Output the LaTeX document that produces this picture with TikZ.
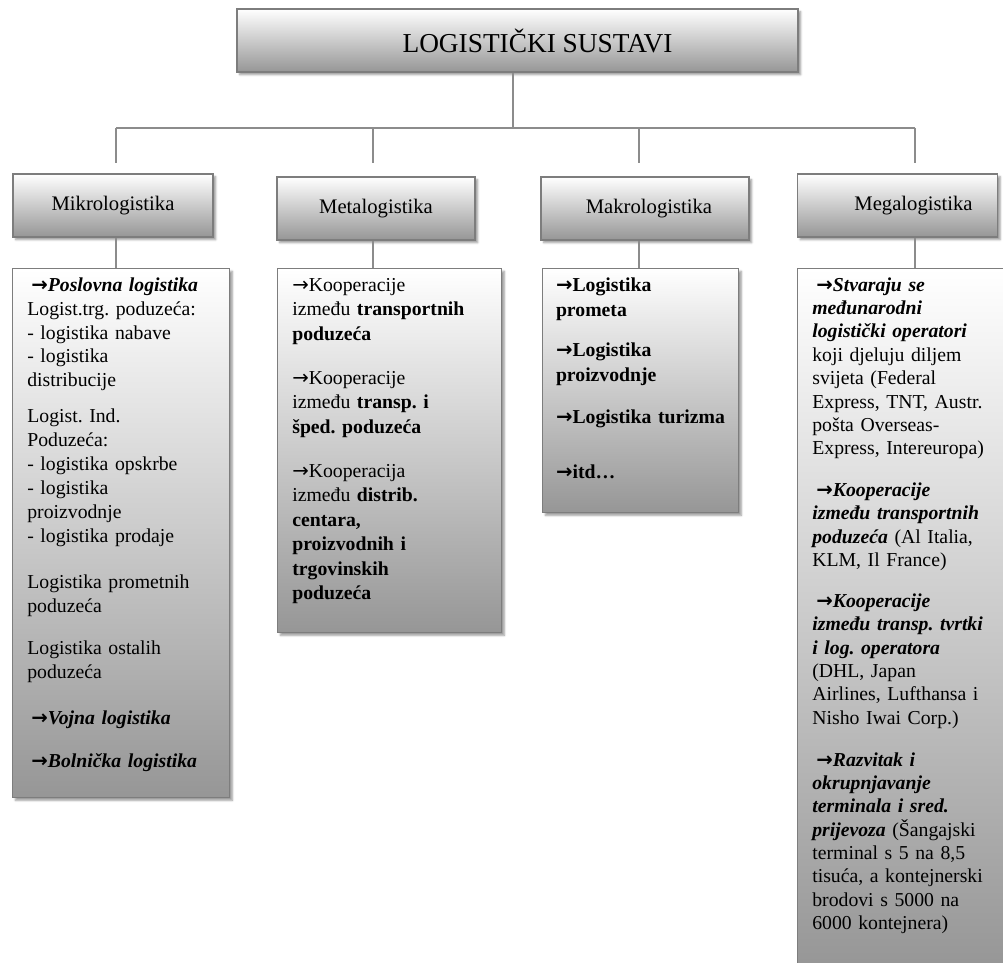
\documentclass[tikz,border=0pt]{standalone}
\usepackage{fontspec}
\setmainfont{Liberation Serif}
\newfontfamily\arrowfont{DejaVu Sans}
\usepackage{tikz}
\usetikzlibrary{
    positioning,
    shadows,
    shadows.blur
}
\frenchspacing
\hyphenpenalty=10000
\exhyphenpenalty=10000
\definecolor{boxLine}{RGB}{125, 125, 125}
\definecolor{boxBottom}{RGB}{150, 150, 150}
\definecolor{linkGray}{RGB}{140, 140, 140}
\tikzset{
    % 共通のボックススタイル
    block/.style={
        rectangle,
        draw=boxLine,            % 枠線の色
        line width=1pt,
        top color=white,         % 上は白
        bottom color=boxBottom,  % 下は灰色
        % 影の設定
        blur shadow={shadow xshift=2pt, shadow yshift=-2pt, shadow blur radius=1.5pt}
    },
    % 最上段
    topbox/.style={
        block,
        minimum width=420.75pt,
        minimum height=47.25pt,
        inner sep=0pt,
        font=\fontsize{20.5pt}{24pt}\selectfont
    },
    % 第2段
    headbox/.style={
        block,
        minimum width=150pt,
        minimum height=47.25pt,
        inner sep=0pt,
        font=\fontsize{15.5pt}{18pt}\selectfont
    },
    % 内容のボックス(上揃え)
    detailbox/.style={
        block,
        anchor=north west,
        align=left,
        inner xsep=11pt,
        inner ysep=5pt,
        text height=12pt
    },
    % 線のスタイル
    link/.style={
        draw=linkGray,
        line width=1.1pt
    }
}

\begin{document}
\begin{tikzpicture}[x=0.75pt, y=-0.75pt]

    \useasboundingbox (0,0) rectangle (1003,963);

    % [0] 見出し
    \node[topbox] (sustavi) at (517.5,40.5) {\hspace*{30pt}LOGISTIČKI SUSTAVI};

    % [1]-[4] 第2段
    \node[headbox] (mikro) at (113,205.5) {Mikrologistika};
    \node[headbox, minimum width=148.5pt] (meta) at (376,208.5) {Metalogistika};
    \node[headbox, minimum width=156pt] (makro) at (645,208.5) {\hspace*{6pt}Makrologistika};
    \node[headbox] (mega) at (897.5,205.5) {\hspace*{24pt}Megalogistika};

    % 分岐の座標
    \coordinate (c_bar) at (513,128);
    \coordinate (c_mikro) at (116,163);
    \coordinate (c_meta) at (373,163);
    \coordinate (c_makro) at (639,163);
    \coordinate (c_mega) at (915,163);

    % [1] Mikrologistika の内容
    \node[detailbox, text width=140.75pt, text depth=374.75pt,
          font=\fontsize{14.8pt}{17.9pt}\selectfont] (dMikro) at (12,268) {
        \hspace*{3pt}\textbf{\textit{{\arrowfont →}Poslovna logistika}}\\
        Logist.trg. poduzeća:\\
        - logistika nabave\\
        - logistika\\
        distribucije\\[9pt]
        Logist. Ind.\\
        Poduzeća:\\
        - logistika opskrbe\\
        - logistika\\
        proizvodnje\\
        - logistika prodaje\\[17pt]
        Logistika prometnih\\
        poduzeća\\[14pt]
        Logistika ostalih\\
        poduzeća\\[16pt]
        \hspace*{3pt}\textbf{\textit{{\arrowfont →}Vojna logistika}}\\[15pt]
        \hspace*{3pt}\textbf{\textit{{\arrowfont →}Bolnička logistika}}
    };

    % [2] Metalogistika の内容
    \node[detailbox, text width=146pt, text depth=251pt,
          font=\fontsize{14.8pt}{18.4pt}\selectfont] (dMeta) at (277,268) {
        {\arrowfont →}Kooperacije\\
        između \textbf{transportnih}\\
        \textbf{poduzeća}\\[14.5pt]
        {\arrowfont →}Kooperacije\\
        između \textbf{transp. i}\\
        \textbf{šped. poduzeća}\\[14.5pt]
        {\arrowfont →}Kooperacija\\
        između \textbf{distrib.}\\
        \textbf{centara,}\\
        \textbf{proizvodnih i}\\
        \textbf{trgovinskih}\\
        \textbf{poduzeća}
    };

    % [3] Makrologistika の内容
    \node[detailbox, inner xsep=10pt, text width=127pt, text depth=161pt,
          font=\fontsize{14.8pt}{18.75pt}\selectfont\bfseries] (dMakro) at (542,268) {
        {\arrowfont →}Logistika\\
        prometa\\[11pt]
        {\arrowfont →}Logistika\\
        proizvodnje\\[13pt]
        \mbox{{\arrowfont →}Logistika turizma}\\[22.5pt]
        {\arrowfont →}itd…
    };

    % [4] Megalogistika の内容(右端・下端で切れる)
    \node[detailbox, text width=139pt, text depth=503pt,
          font=\fontsize{14.8pt}{17.5pt}\selectfont] (dMega) at (797,268) {
        \hspace*{3pt}\textbf{\textit{{\arrowfont →}Stvaraju se}}\\
        \textbf{\textit{međunarodni}}\\
        \textbf{\textit{logistički operatori}}\\
        koji djeluju diljem\\
        svijeta (Federal\\
        Express, TNT, Austr.\\
        pošta Overseas-\\
        Express, Intereuropa)\\[14pt]
        \hspace*{3pt}\textbf{\textit{{\arrowfont →}Kooperacije}}\\
        \textbf{\textit{između transportnih}}\\
        \textbf{\textit{poduzeća}} (Al Italia,\\
        KLM, Il France)\\[13pt]
        \hspace*{3pt}\textbf{\textit{{\arrowfont →}Kooperacije}}\\
        \textbf{\textit{između transp. tvrtki}}\\
        \textbf{\textit{i log. operatora}}\\
        (DHL, Japan\\
        Airlines, Lufthansa i\\
        Nisho Iwai Corp.)\\[14pt]
        \hspace*{3pt}\textbf{\textit{{\arrowfont →}Razvitak i}}\\
        \textbf{\textit{okrupnjavanje}}\\
        \textbf{\textit{terminala i sred.}}\\
        \textbf{\textit{prijevoza}} (Šangajski\\
        terminal s 5 na 8,5\\
        tisuća, a kontejnerski\\
        brodovi s 5000 na\\
        6000 kontejnera)
    };

    % 線の描画
    \draw[link] (sustavi.south -| c_bar) -- (c_bar);
    \draw[link] (c_mikro |- c_bar) -- (c_mega |- c_bar);
    \foreach \c in {c_mikro, c_meta, c_makro, c_mega}
        \draw[link] (\c |- c_bar) -- (\c);

    \draw[link] (mikro.south -| c_mikro) -- (dMikro.north -| c_mikro);
    \draw[link] (meta.south -| c_meta) -- (dMeta.north -| c_meta);
    \draw[link] (makro.south -| c_makro) -- (dMakro.north -| c_makro);
    \draw[link] (mega.south -| c_mega) -- (dMega.north -| c_mega);

\end{tikzpicture}
\end{document}
